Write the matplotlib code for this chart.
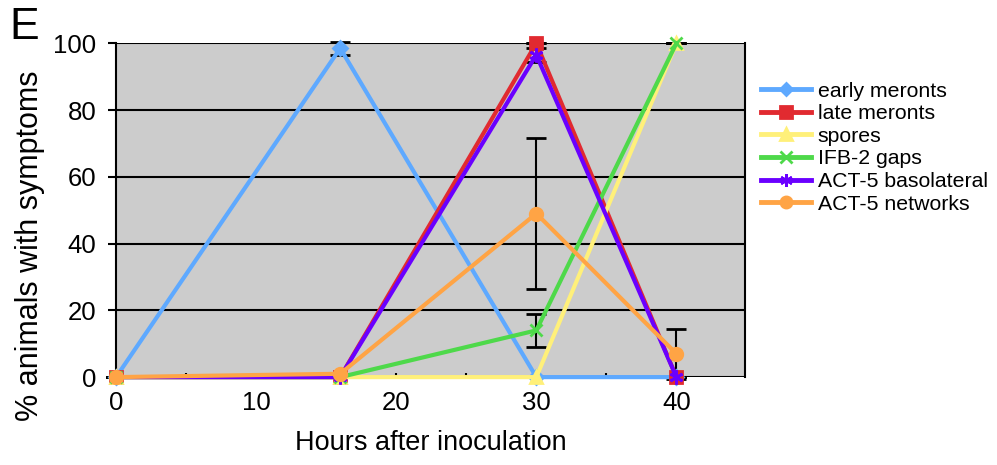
import matplotlib
matplotlib.use("Agg")
import matplotlib.pyplot as plt
from matplotlib.ticker import MultipleLocator
from matplotlib.lines import Line2D

hours = [0, 16, 30, 40]
series_names = ["early meronts", "late meronts", "spores", "IFB-2 gaps",
                "ACT-5 basolateral", "ACT-5 networks"]
early_meronts = [0, 98.5, 0, 0]
late_meronts = [0, 0, 100, 0]
spores = [0, 0, 0, 100]
ifb2_gaps = [0, 0, 14, 100]
act5_basolateral = [0, 0, 96.5, 0]
act5_networks = [0, 1, 49, 7]

early_meronts_err = [0, 2, 0, 0]
late_meronts_err = [0, 0, 0, 0]
spores_err = [0, 0, 0, 0]
ifb2_gaps_err = [0, 0, 5, 0]
act5_basolateral_err = [0, 0, 2, 0]
act5_networks_err = [0, 0, 22.5, 7.5]

values = [early_meronts, late_meronts, spores, ifb2_gaps, act5_basolateral, act5_networks]
errors = [early_meronts_err, late_meronts_err, spores_err, ifb2_gaps_err,
          act5_basolateral_err, act5_networks_err]
colors = ["#5EA9FF", "#E12A30", "#FFF07A", "#4ED94A", "#6A00FF", "#FFA445"]
markers = ["D", "s", "^", "x", (6, 2, 0), "o"]
msizes = [7, 9, 9, 9, 10, 9]

plt.rcParams['font.family'] = ['Liberation Sans', 'DejaVu Sans']

fig = plt.figure(figsize=(9.97, 4.65), dpi=100)
ax = fig.add_axes([0.1164, 0.189, 0.6309, 0.718])
ax.set_facecolor("#CCCCCC")

handles = []
for name, v, e, c, m, ms in zip(series_names, values, errors, colors, markers, msizes):
    ax.errorbar(hours, v, yerr=e, color=c, lw=3, marker=m, ms=ms,
                mec=c, mew=2, ecolor="black", elinewidth=1.5, capsize=7,
                capthick=1.5, clip_on=False, zorder=3)
    handles.append(Line2D([], [], color=c, lw=3.5, marker=m, ms=ms - 1,
                          mec=c, mew=2, label=name))

ax.set_xlim(0, 44.9)
ax.set_ylim(0, 100)
ax.set_yticks([0, 20, 40, 60, 80, 100])
ax.set_xticks([0, 10, 20, 30, 40])
ax.xaxis.set_minor_locator(MultipleLocator(5))
ax.yaxis.grid(True, color="black", lw=1.5)
ax.set_axisbelow(True)
for s in ["top", "bottom"]:
    ax.spines[s].set_visible(False)
for s in ["left", "right"]:
    ax.spines[s].set_linewidth(1.5)
ax.tick_params(axis="y", labelsize=18.5, length=6, width=1.5, direction="out", pad=8)
ax.tick_params(axis="x", which="major", labelsize=18.5, length=3, width=1.5,
               direction="in", pad=10)
ax.tick_params(axis="x", which="minor", length=3, width=1.5, direction="in")
ax.tick_params(axis="y", which="minor", left=False)

ax.set_xlabel("Hours after inoculation", fontsize=19.5, labelpad=11)
ax.set_ylabel("% animals with symptoms", fontsize=22)
ax.yaxis.set_label_coords(-0.113, 0.392)

fig.text(0.009, 0.985, "E", fontsize=32, va="top", ha="left")

leg = ax.legend(handles=handles, loc="upper left", bbox_to_anchor=(1.026, 0.885),
                frameon=False, fontsize=15.3, handlelength=2.35, handletextpad=0.3,
                labelspacing=0.17, borderaxespad=0, borderpad=0)

fig.savefig("out.png", dpi=100)
